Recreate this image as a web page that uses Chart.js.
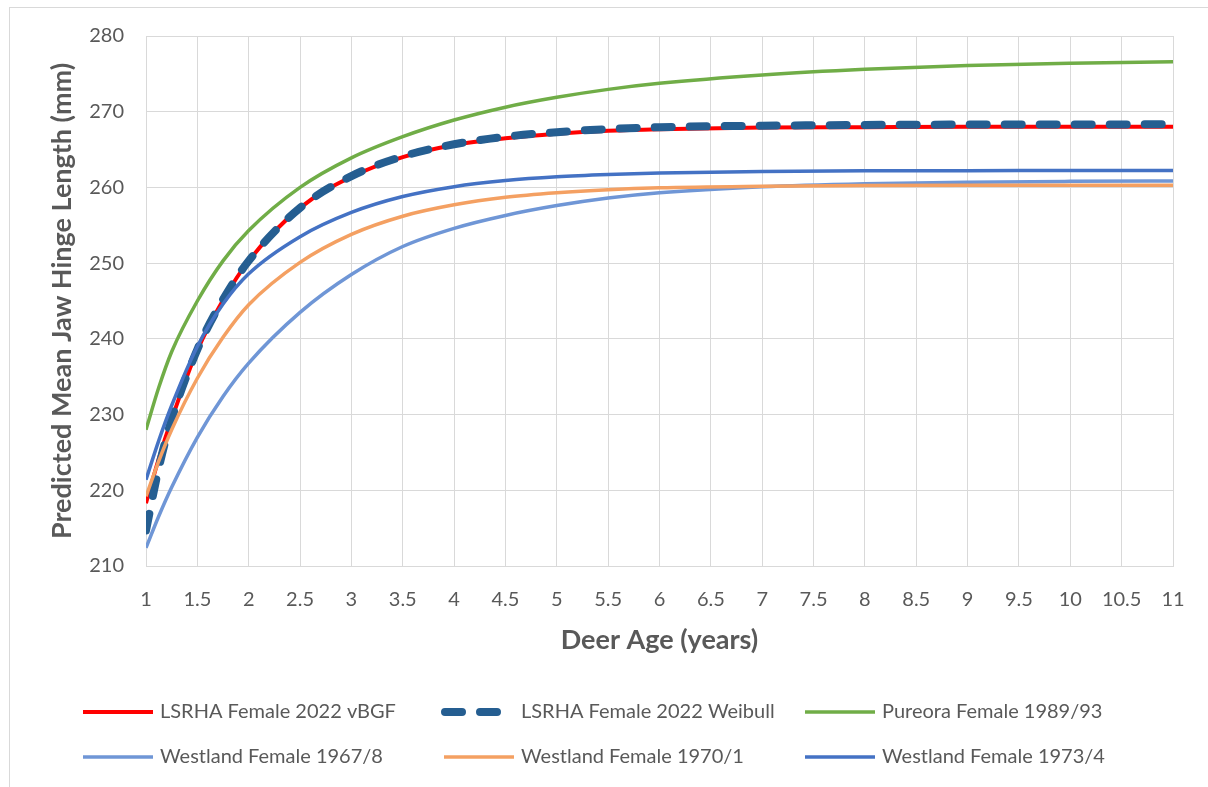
<!DOCTYPE html>
<html>
<head>
<meta charset="utf-8">
<script src="https://cdn.jsdelivr.net/npm/chart.js@4/dist/chart.umd.min.js"></script>
<style>
  html, body { margin: 0; padding: 0; background: #fff; }
  #wrap { position: relative; width: 1208px; height: 787px; overflow: hidden; }
  #frame { position: absolute; left: 9px; top: 7px; width: 1300px; height: 900px; border: 1px solid #d9d9d9; }
  canvas { position: absolute; left: 0; top: 0; }
</style>
</head>
<body>
<div id="wrap">
  <div id="frame"></div>
  <canvas id="myChart" width="1208" height="787"></canvas>
</div>
<script>
// deer age in years (x positions of the read points)
const ages = [1, 1.125, 1.25, 1.5, 1.75, 2, 2.5, 3, 3.5, 4, 4.5, 5, 5.5, 6, 7, 8, 9, 10, 11];

// predicted mean jaw hinge length (mm)
const lsrhaVbgf    = [218.3, 224.2, 229.4, 238.5, 245.1, 250.3, 257.3, 261.4, 264.0, 265.6, 266.5, 267.1, 267.5, 267.7, 267.9, 267.95, 268.0, 268.0, 268.0];
const lsrhaWeibull = [214.7, 223.0, 229.4, 238.6, 245.2, 250.3, 257.3, 261.5, 264.1, 265.7, 266.7, 267.3, 267.7, 267.95, 268.15, 268.25, 268.3, 268.3, 268.35];
const pureora      = [228.0, 233.6, 238.3, 245.0, 250.3, 254.3, 260.0, 263.9, 266.7, 268.9, 270.6, 271.9, 272.95, 273.75, 274.85, 275.6, 276.1, 276.4, 276.6];
const westland1967 = [212.4, 216.6, 220.4, 227.0, 232.4, 236.8, 243.5, 248.5, 252.2, 254.6, 256.3, 257.6, 258.6, 259.3, 260.1, 260.5, 260.7, 260.8, 260.85];
const westland1970 = [219.2, 223.9, 228.0, 234.8, 240.2, 244.5, 250.1, 253.8, 256.2, 257.7, 258.7, 259.3, 259.7, 259.95, 260.15, 260.25, 260.3, 260.3, 260.3];
const westland1973 = [221.4, 226.6, 231.2, 239.0, 244.6, 248.6, 253.5, 256.7, 258.8, 260.1, 260.9, 261.4, 261.7, 261.9, 262.1, 262.2, 262.2, 262.25, 262.25];

const seriesNames = [
    'LSRHA Female 2022 vBGF',
    'LSRHA Female 2022 Weibull',
    'Pureora Female 1989/93',
    'Westland Female 1967/8',
    'Westland Female 1970/1',
    'Westland Female 1973/4'
];

const xMin = 1, xMax = 11, xStep = 0.5;
const yMin = 210, yMax = 280, yStep = 10;

const FONT = 'Lato, "Open Sans", sans-serif';
const TEXT = '#595959';

function pts(values) {
    return ages.map((a, i) => ({ x: a, y: values[i] }));
}

// excel style legend: 3 columns x 2 rows under the axis title
const legendPlugin = {
    id: 'gridLegend',
    afterDraw(chart) {
        const ctx = chart.ctx;
        const cols = [83, 444, 805];
        const rows = [712, 757];
        chart.data.datasets.forEach((ds, i) => {
            const x = cols[i % 3];
            const y = rows[Math.floor(i / 3)];
            ctx.save();
            ctx.strokeStyle = ds.borderColor;
            ctx.lineWidth = ds.borderWidth;
            ctx.lineCap = ds.borderCapStyle || 'butt';
            ctx.setLineDash(ds.borderDash || []);
            ctx.beginPath();
            ctx.moveTo(ds.borderDash ? x + 1 : x, y);
            ctx.lineTo(x + 70, y);
            ctx.stroke();
            ctx.setLineDash([]);
            ctx.fillStyle = TEXT;
            ctx.font = '20px ' + FONT;
            ctx.textBaseline = 'middle';
            ctx.fillText(ds.label, x + 77, y);
            ctx.restore();
        });
    }
};

const ctx = document.getElementById('myChart').getContext('2d');

const myChart = new Chart(ctx, {
    type: 'line',
    data: {
        datasets: [
            { label: seriesNames[0], data: pts(lsrhaVbgf), borderColor: '#FF0000', borderWidth: 4, order: 6 },
            { label: seriesNames[1], data: pts(lsrhaWeibull), borderColor: '#255E91', borderWidth: 8,
              borderDash: [17, 18], borderCapStyle: 'round', order: 5 },
            { label: seriesNames[2], data: pts(pureora), borderColor: '#70AD47', borderWidth: 3.5, order: 4 },
            { label: seriesNames[3], data: pts(westland1967), borderColor: '#6F96D6', borderWidth: 3.5, order: 3 },
            { label: seriesNames[4], data: pts(westland1970), borderColor: '#F4A062', borderWidth: 3.5, order: 2 },
            { label: seriesNames[5], data: pts(westland1973), borderColor: '#4472C4', borderWidth: 3.5, order: 1 }
        ]
    },
    options: {
        responsive: false,
        animation: false,
        devicePixelRatio: 1,
        layout: { padding: { left: 0, right: 35, top: 36, bottom: 131 } },
        elements: {
            point: { radius: 0, hoverRadius: 0 },
            line: { cubicInterpolationMode: 'monotone', fill: false }
        },
        plugins: {
            legend: { display: false },
            tooltip: { enabled: false }
        },
        scales: {
            x: {
                type: 'linear',
                min: xMin,
                max: xMax,
                ticks: { stepSize: xStep, color: TEXT, font: { family: FONT, size: 20 }, padding: 22,
                         maxRotation: 0, autoSkip: false, callback: v => String(v) },
                grid: { color: '#d9d9d9', drawTicks: false },
                border: { color: '#d9d9d9' },
                title: { display: true, text: 'Deer Age (years)', color: TEXT,
                         font: { family: FONT, size: 27, weight: 'bold' }, padding: { top: 15, bottom: 0 } },
                afterFit(scale) {
                    scale.height = 90;
                    scale.paddingLeft = 0;
                    scale.paddingRight = 0;
                }
            },
            y: {
                min: yMin,
                max: yMax,
                ticks: { stepSize: yStep, color: TEXT, font: { family: FONT, size: 20 }, padding: 22 },
                grid: { color: '#d9d9d9', drawTicks: false },
                border: { display: false },
                title: { display: true, text: 'Predicted Mean Jaw Hinge Length (mm)', color: TEXT,
                         font: { family: FONT, size: 27, weight: 'bold' }, padding: { top: 46, bottom: 0 } },
                afterFit(scale) {
                    scale.width = 146;
                    scale.paddingTop = 0;
                    scale.paddingBottom = 0;
                }
            }
        }
    },
    plugins: [legendPlugin]
});
</script>
</body>
</html>
